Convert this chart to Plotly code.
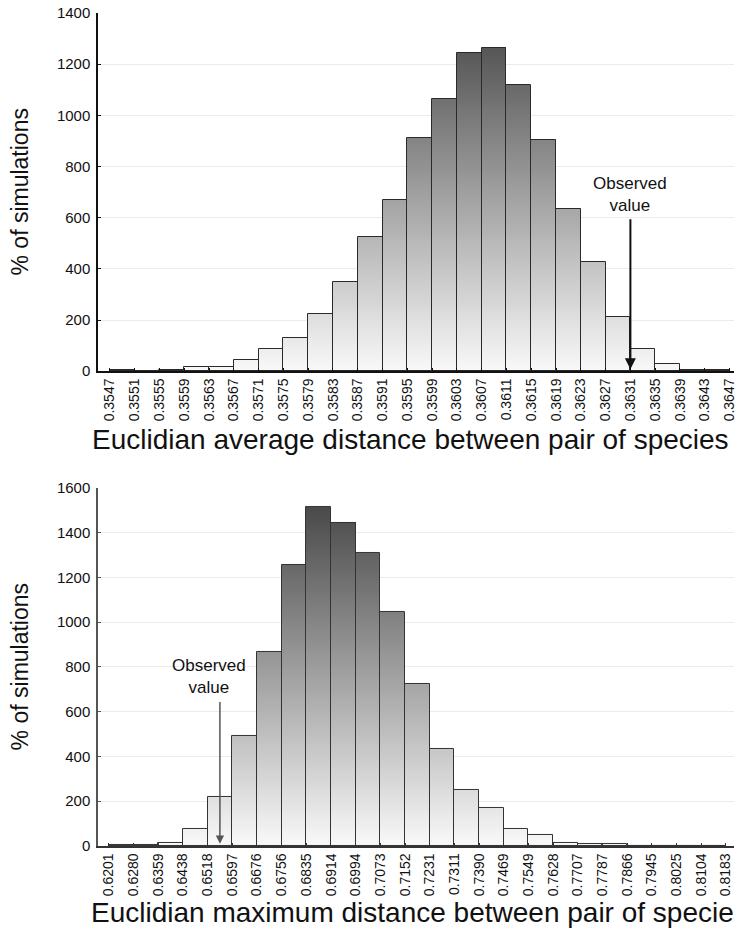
import plotly.graph_objects as go

# ---------------- data ----------------
top_labels = ["0.3547", "0.3551", "0.3555", "0.3559", "0.3563", "0.3567", "0.3571",
              "0.3575", "0.3579", "0.3583", "0.3587", "0.3591", "0.3595", "0.3599",
              "0.3603", "0.3607", "0.3611", "0.3615", "0.3619", "0.3623", "0.3627",
              "0.3631", "0.3635", "0.3639", "0.3643", "0.3647"]
top_counts = [3, 0, 3, 18, 18, 45, 85, 130, 225, 350, 525, 670, 912, 1062,
              1245, 1265, 1120, 905, 635, 425, 210, 88, 30, 5, 3]
top_observed_index = 21  # boundary 0.3631

bottom_labels = ["0.6201", "0.6280", "0.6359", "0.6438", "0.6518", "0.6597", "0.6676",
                 "0.6756", "0.6835", "0.6914", "0.6994", "0.7073", "0.7152", "0.7231",
                 "0.7311", "0.7390", "0.7469", "0.7549", "0.7628", "0.7707", "0.7787",
                 "0.7866", "0.7945", "0.8025", "0.8104", "0.8183"]
bottom_counts = [3, 3, 15, 75, 218, 493, 865, 1258, 1515, 1445, 1310, 1048, 725,
                 435, 250, 168, 78, 50, 15, 10, 8, 2, 2, 2, 2]
bottom_observed_pos = 4.5  # middle of bin 0.6518-0.6597

top_title = "Euclidian average distance between pair of species"
bottom_title = "Euclidian maximum distance between pair of specie"
y_title = "% of simulations"

FONT = "Arial, Liberation Sans, sans-serif"
STEP = 8


def gradient_segments(counts, step):
    xs, bases, hs, cs = [], [], [], []
    for i, v in enumerate(counts):
        b = 0
        while b < v:
            h = min(step, v - b)
            xs.append(i + 0.5)
            bases.append(b)
            hs.append(h)
            cs.append(b + h / 2)
            b += step
    return xs, bases, hs, cs


fig = go.Figure()


def add_hist(counts, xa, ya, top_color, line_color):
    xs, bases, hs, cs = gradient_segments(counts, STEP)
    vmax = max(counts)
    fig.add_trace(go.Bar(
        x=xs, y=hs, base=bases, width=1, xaxis=xa, yaxis=ya,
        marker=dict(color=cs, colorscale=[[0, "#f9f9f9"], [1, top_color]],
                    cmin=0, cmax=vmax, line=dict(width=0)),
        showlegend=False, hoverinfo="skip"))
    fig.add_trace(go.Bar(
        x=[i + 0.5 for i in range(len(counts))], y=counts, width=1,
        xaxis=xa, yaxis=ya,
        marker=dict(color="rgba(0,0,0,0)", line=dict(color=line_color, width=1)),
        showlegend=False))


add_hist(top_counts, "x", "y", "#565656", "#2a2a2a")
add_hist(bottom_counts, "x2", "y2", "#4a4a4a", "#333333")

xtickfont = dict(family=FONT, size=14, color="#111")
ytickfont = dict(family=FONT, size=15, color="#111")

fig.update_layout(
    width=737, height=933,
    margin=dict(l=98, r=0, t=13, b=87),
    paper_bgcolor="white", plot_bgcolor="white",
    barmode="overlay", bargap=0,
    font=dict(family=FONT, color="#111"),
    xaxis=dict(domain=[0, 1], anchor="y", range=[-0.48, 25.18],
               tickmode="array", tickvals=list(range(len(top_labels))),
               ticktext=top_labels, tickangle=-90, ticks="inside", ticklen=3,
               tickcolor="#111", showgrid=False, showline=True, zeroline=False,
               linecolor="#111", linewidth=1.5, tickfont=xtickfont,
               ticklabeloverflow="allow"),
    yaxis=dict(domain=[0.570, 1], anchor="x", range=[0, 1400], dtick=200,
               ticks="inside", ticklen=3, tickcolor="#111",
               showgrid=True, gridcolor="#ebebeb", gridwidth=1, zeroline=False,
               showline=True, linecolor="#111", linewidth=1.5, tickfont=ytickfont,
               ticklabelstandoff=3),
    xaxis2=dict(domain=[0, 1], anchor="y2", range=[-0.44, 25.33],
                tickmode="array", tickvals=list(range(len(bottom_labels))),
                ticktext=bottom_labels, tickangle=-90, ticks="inside", ticklen=3,
                tickcolor="#333", showgrid=False, showline=True, zeroline=False,
                linecolor="#333", linewidth=1.5, tickfont=xtickfont,
                ticklabeloverflow="allow"),
    yaxis2=dict(domain=[0, 0.4298], anchor="x2", range=[0, 1600], dtick=200,
                ticks="inside", ticklen=3, tickcolor="#555",
                showgrid=True, gridcolor="#ebebeb", gridwidth=1, zeroline=False,
                showline=True, linecolor="#555", linewidth=1.5, tickfont=ytickfont,
                ticklabelstandoff=3),
)

annotations = [
    # axis titles
    dict(text=top_title, xref="paper", yref="paper", x=0.491, y=0.4874,
         xanchor="center", yanchor="middle", showarrow=False,
         font=dict(family=FONT, size=28, color="#111")),
    dict(text=bottom_title, xref="paper", yref="paper", x=0.494, y=-0.0804,
         xanchor="center", yanchor="middle", showarrow=False,
         font=dict(family=FONT, size=28, color="#111")),
    dict(text=y_title, xref="paper", yref="paper", x=-0.122, y=0.785,
         xanchor="center", yanchor="middle", textangle=-90, showarrow=False,
         font=dict(family=FONT, size=23, color="#111")),
    dict(text=y_title, xref="paper", yref="paper", x=-0.122, y=0.2149,
         xanchor="center", yanchor="middle", textangle=-90, showarrow=False,
         font=dict(family=FONT, size=23, color="#111")),
    # observed value - top
    dict(text="Observed<br>value", xref="x", yref="y", x=top_observed_index, y=603,
         xanchor="center", yanchor="bottom", showarrow=False,
         font=dict(family=FONT, size=17, color="#111")),
    dict(text="", xref="x", yref="y", x=top_observed_index, y=8,
         ax=top_observed_index, ay=600, axref="x", ayref="y",
         showarrow=True, arrowhead=2, arrowsize=1.1, arrowwidth=2, arrowcolor="#111"),
    # observed value - bottom
    dict(text="Observed<br>value", xref="x2", yref="y2", x=4.07, y=658,
         xanchor="center", yanchor="bottom", showarrow=False,
         font=dict(family=FONT, size=17, color="#111")),
    dict(text="", xref="x2", yref="y2", x=bottom_observed_pos, y=10,
         ax=bottom_observed_pos, ay=650, axref="x2", ayref="y2",
         showarrow=True, arrowhead=2, arrowsize=1.1, arrowwidth=1.5, arrowcolor="#555"),
]
fig.update_layout(annotations=annotations)

fig.write_html("out.html", config={"displayModeBar": False},
               post_script="document.body.style.margin='0';document.body.style.padding='0';")
